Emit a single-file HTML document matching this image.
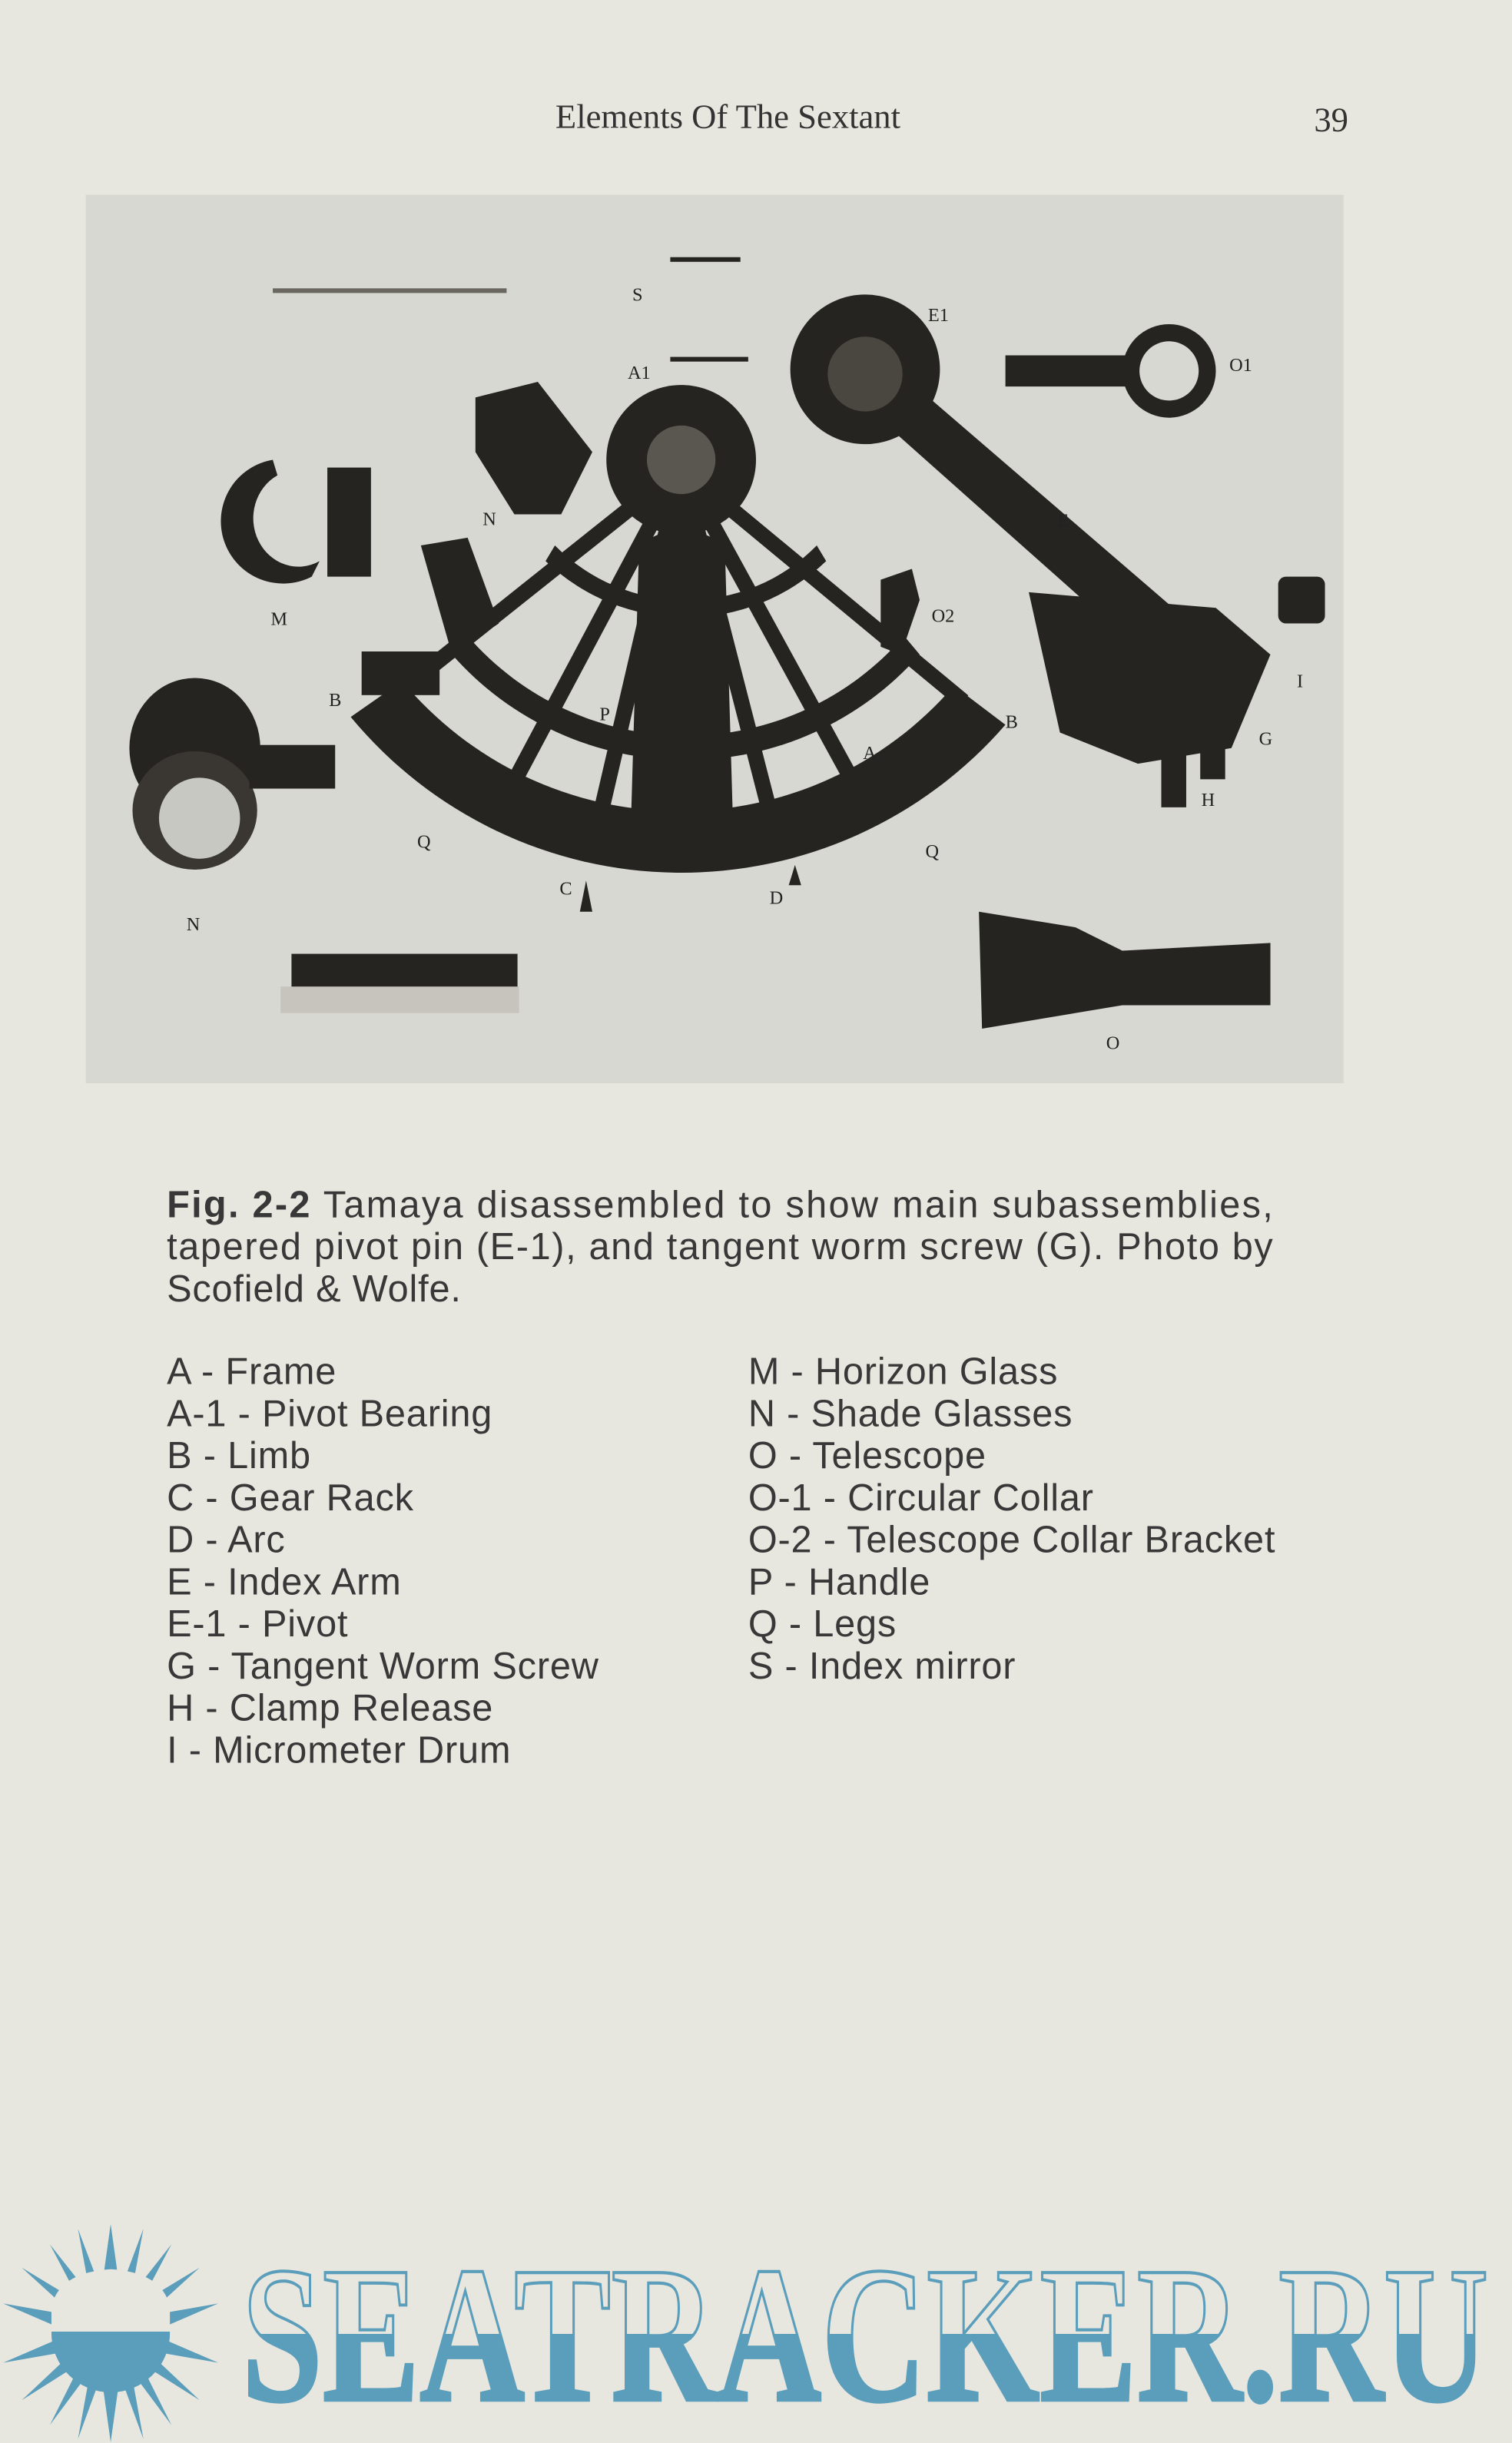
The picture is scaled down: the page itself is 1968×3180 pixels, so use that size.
<!DOCTYPE html>
<html><head><meta charset="utf-8"><style>
html,body{margin:0;padding:0;background:#e8e7df;}
svg{display:block}
</style></head><body>
<svg width="1968" height="3180" viewBox="0 0 970 1567.5" preserveAspectRatio="none" xmlns="http://www.w3.org/2000/svg">
<defs>
<linearGradient id="wm" gradientUnits="userSpaceOnUse" x1="0" y1="1455" x2="0" y2="1540">
<stop offset="0.5" stop-color="#e8e7df"/><stop offset="0.5" stop-color="#5b9ebb"/>
</linearGradient>
</defs>
<rect width="970" height="1568" fill="#e8e7df"/>
<text x="467" y="82" font-family="Liberation Serif, serif" font-size="22" text-anchor="middle" fill="#333">Elements Of The Sextant</text>
<text x="854" y="84" font-family="Liberation Serif, serif" font-size="22" text-anchor="middle" fill="#333">39</text>
<rect x="55" y="125" width="807" height="570" fill="#d8d8d2"/>
<g fill="#262421" stroke="none">
<path d="M 225 460 A 275 275 0 0 0 645 465 L 612 440 A 232 232 0 0 1 258 437 Z"/>
<path d="M 290 420 A 200 200 0 0 0 590 420 L 580 408 A 185 185 0 0 1 300 408 Z"/>
<path d="M 350 360 A 130 130 0 0 0 530 360 L 524 350 A 118 118 0 0 1 356 350 Z"/>
<g stroke="#262421" stroke-width="10" fill="none">
<line x1="437" y1="300" x2="255" y2="445"/>
<line x1="437" y1="300" x2="618" y2="450"/>
<line x1="437" y1="300" x2="320" y2="520"/>
<line x1="437" y1="300" x2="560" y2="525"/>
<line x1="437" y1="300" x2="380" y2="545"/>
<line x1="437" y1="300" x2="500" y2="545"/>
</g>
<circle cx="437" cy="295" r="48"/>
<circle cx="437" cy="295" r="22" fill="#5a5650"/>
<path d="M 410 350 Q 437 330 465 350 L 470 520 Q 437 550 405 520 Z"/>
<path d="M 270 350 L 300 345 L 320 400 L 290 420 Z"/>
<rect x="232" y="418" width="50" height="28"/>
<path d="M305 255 L345 245 L380 290 L360 330 L330 330 L305 290 Z"/>
<circle cx="555" cy="237" r="48"/>
<circle cx="555" cy="240" r="24" fill="#4a4640"/>
<path d="M560 265 L590 250 L770 405 L740 425 Z"/>
<path d="M660 380 L780 390 L815 420 L790 480 L730 490 L680 470 Z"/>
<rect x="820" y="370" width="30" height="30" rx="5"/>
<rect x="745" y="480" width="16" height="38"/>
<rect x="770" y="470" width="16" height="30"/>
<circle cx="750" cy="238" r="30"/>
<circle cx="750" cy="238" r="19" fill="#d8d8d2"/>
<rect x="645" y="228" width="80" height="20"/>
<path d="M565 372 L585 365 L590 385 L578 420 L565 415 Z"/>
<path d="M175 295 A 40 40 0 1 0 200 370 L 205 360 A 28 30 0 1 1 178 305 Z"/>
<rect x="210" y="300" width="28" height="70"/>
<ellipse cx="125" cy="480" rx="42" ry="45"/>
<ellipse cx="125" cy="520" rx="40" ry="38" fill="#3a3733"/>
<ellipse cx="128" cy="525" rx="26" ry="26" fill="#c8c8c2"/>
<rect x="160" y="478" width="55" height="28"/>
<path d="M628 585 L690 595 L720 610 L815 605 L815 645 L720 645 L690 650 L630 660 Z"/>
<rect x="187" y="612" width="145" height="22"/>
<rect x="180" y="633" width="153" height="17" fill="#c6c4bc"/>
<rect x="430" y="165" width="45" height="3"/>
<rect x="430" y="229" width="50" height="3"/>
<rect x="175" y="185" width="150" height="3" fill="#6a6660"/>
<path d="M376 565 L380 585 L372 585 Z"/>
<path d="M510 555 L514 568 L506 568 Z"/>
</g>
<g font-family="Liberation Serif, serif" font-size="12" fill="#222" text-anchor="middle">
<text x="410" y="243">A1</text><text x="409" y="193">S</text><text x="602" y="206">E1</text>
<text x="796" y="238">O1</text><text x="314" y="337">N</text><text x="682" y="338">E</text>
<text x="179" y="401">M</text><text x="605" y="399">O2</text><text x="834" y="441">I</text>
<text x="215" y="453">B</text><text x="388" y="462">P</text><text x="649" y="467">B</text>
<text x="558" y="487">A</text><text x="812" y="478">G</text><text x="775" y="517">H</text>
<text x="272" y="544">Q</text><text x="598" y="550">Q</text><text x="363" y="574">C</text>
<text x="498" y="580">D</text><text x="124" y="597">N</text><text x="714" y="673">O</text>
</g>
<g font-family="Liberation Sans, sans-serif" font-size="24" fill="#383838" letter-spacing="0.4">
<text x="107" y="781" textLength="710" lengthAdjust="spacing"><tspan font-weight="bold">Fig. 2-2</tspan> Tamaya disassembled to show main subassemblies,</text>
<text x="107" y="808" textLength="710" lengthAdjust="spacing">tapered pivot pin (E-1), and tangent worm screw (G). Photo by</text>
<text x="107" y="835">Scofield &amp; Wolfe.</text>
<text x="107" y="888">A - Frame</text>
<text x="107" y="915">A-1 - Pivot Bearing</text>
<text x="107" y="942">B - Limb</text>
<text x="107" y="969">C - Gear Rack</text>
<text x="107" y="996">D - Arc</text>
<text x="107" y="1023">E - Index Arm</text>
<text x="107" y="1050">E-1 - Pivot</text>
<text x="107" y="1077">G - Tangent Worm Screw</text>
<text x="107" y="1104">H - Clamp Release</text>
<text x="107" y="1131">I - Micrometer Drum</text>
<text x="480" y="888">M - Horizon Glass</text>
<text x="480" y="915">N - Shade Glasses</text>
<text x="480" y="942">O - Telescope</text>
<text x="480" y="969">O-1 - Circular Collar</text>
<text x="480" y="996">O-2 - Telescope Collar Bracket</text>
<text x="480" y="1023">P - Handle</text>
<text x="480" y="1050">Q - Legs</text>
<text x="480" y="1077">S - Index mirror</text>
</g>
<g fill="#5b9ebb">
<polygon points="71,1427 77,1470 92,1430 84,1473 110,1440 90,1478 128,1455 94,1486 140,1478 96,1497 140,1516 94,1508 128,1540 90,1516 110,1556 84,1521 92,1565 77,1524 71,1567 65,1524 50,1565 58,1521 32,1556 52,1516 14,1540 48,1508 2,1516 46,1497 2,1478 48,1486 14,1455 52,1478 32,1440 58,1473 50,1430 65,1470"/>
<circle cx="71" cy="1497" r="38"/>
</g>
<path d="M 33 1496 L 33 1480 Q 38 1458 71 1456 Q 104 1458 109 1480 L 109 1496 Z" fill="#e8e7df"/>
<text x="155" y="1540" textLength="800" lengthAdjust="spacingAndGlyphs" font-family="Liberation Serif, serif" font-weight="bold" font-size="125" fill="url(#wm)" stroke="#5b9ebb" stroke-width="2">SEATRACKER.RU</text>
</svg>
</body></html>
